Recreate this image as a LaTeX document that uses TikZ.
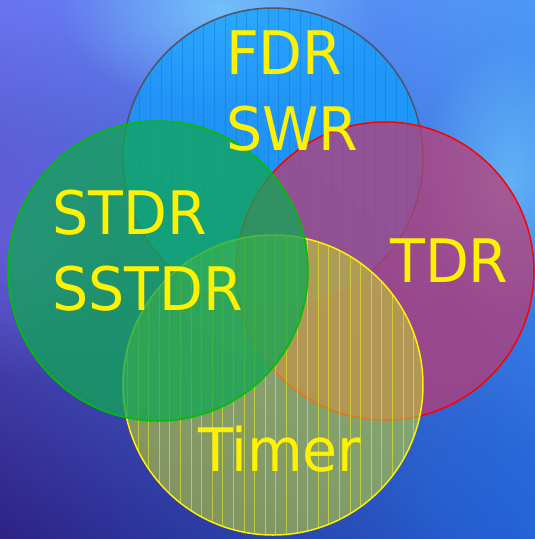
\documentclass[tikz,border=0pt]{standalone}
\usepackage{fontspec}
\setmainfont{DejaVu Sans}[FakeStretch=0.95]
\usetikzlibrary{positioning,fadings,shadings}

\definecolor{bg-ul}{HTML}{6A74F0}
\definecolor{bg-ur}{HTML}{4C98F6}
\definecolor{bg-ll}{HTML}{2E2284}
\definecolor{bg-lr}{HTML}{2464D6}
\definecolor{glow-a}{HTML}{78D0FC}
\definecolor{glow-b}{HTML}{7A6CF8}
\definecolor{fdr-fill}{HTML}{0FA0FF}
\definecolor{fdr-line}{HTML}{505464}
\definecolor{fdr-rule}{HTML}{0A78D8}
\definecolor{tdr-fill}{HTML}{BE3A70}
\definecolor{stdr-fill}{HTML}{10A753}
\definecolor{stdr-line}{HTML}{00C000}
\definecolor{timer-fill}{HTML}{C8DC28}
\definecolor{timer-rule}{HTML}{E8F020}

\tikzfading[name=glow-fade, inner color=transparent!0, outer color=transparent!100]

\begin{document}
\begin{tikzpicture}
[
x=1pt, y=-1pt,
set-a/.style={line width=1.5pt, fill opacity=0.72},
rule-a/.style={line width=1pt},
label-a/.style={text=yellow, inner sep=0pt, anchor=base west, font=\fontsize{60}{72}\selectfont}
]
\useasboundingbox (0,0) rectangle (535,539);
\clip (0,0) rectangle (535,539);

% backdrop
\shade [upper left=bg-ul, upper right=bg-ur, lower left=bg-ll, lower right=bg-lr] (0,0) rectangle (535,539);
\fill [glow-a, path fading=glow-fade, opacity=0.8] (60,-90) rectangle (380,110);
\fill [glow-a, path fading=glow-fade, opacity=0.6] (420,40) rectangle (600,320);
\fill [glow-b, path fading=glow-fade, opacity=0.5] (-80,120) rectangle (120,380);
\fill [bg-lr, path fading=glow-fade, opacity=0.6] (380,380) rectangle (600,600);

% FDR / SWR set
\fill [set-a, fdr-fill] (273,158) circle (150);
\begin{scope}
\clip (273,158) circle (150);
\foreach \x in {129,139.7,...,425}
  \draw [rule-a, fdr-rule, opacity=0.45] (\x,0) -- (\x,320);
\end{scope}
\draw [line width=1.5pt, fdr-line] (273,158) circle (150);

% TDR set
\filldraw [set-a, fill=tdr-fill, draw=red] (385,271) circle (149);

% Timer set
\fill [set-a, timer-fill, fill opacity=0.55] (273,385) circle (150);
\begin{scope}
\clip (273,385) circle (150);
\foreach \x in {127.5,138.1,...,425}
  \draw [rule-a, timer-rule, opacity=0.6] (\x,230) -- (\x,539);
\end{scope}
\draw [line width=1.5pt, yellow] (273,385) circle (150);

% STDR / SSTDR set
\filldraw [set-a, fill=stdr-fill, draw=stdr-line, fill opacity=0.75] (158,271) circle (150);

% labels
\node (fdr)    [label-a]                                    at (226,74)  {FDR};
\node (swr)    [label-a, below = 76pt of fdr.base west,
                anchor=base west]                           {SWR};
\node (stdr)   [label-a]                                    at (52,234)  {STDR};
\node (sstdr)  [label-a, below = 76pt of stdr.base west,
                anchor=base west]                           {SSTDR};
\node (tdr)    [label-a]                                    at (390,282) {TDR};
\node (timer)  [label-a]                                    at (198,471) {Timer};
\end{tikzpicture}
\end{document}
